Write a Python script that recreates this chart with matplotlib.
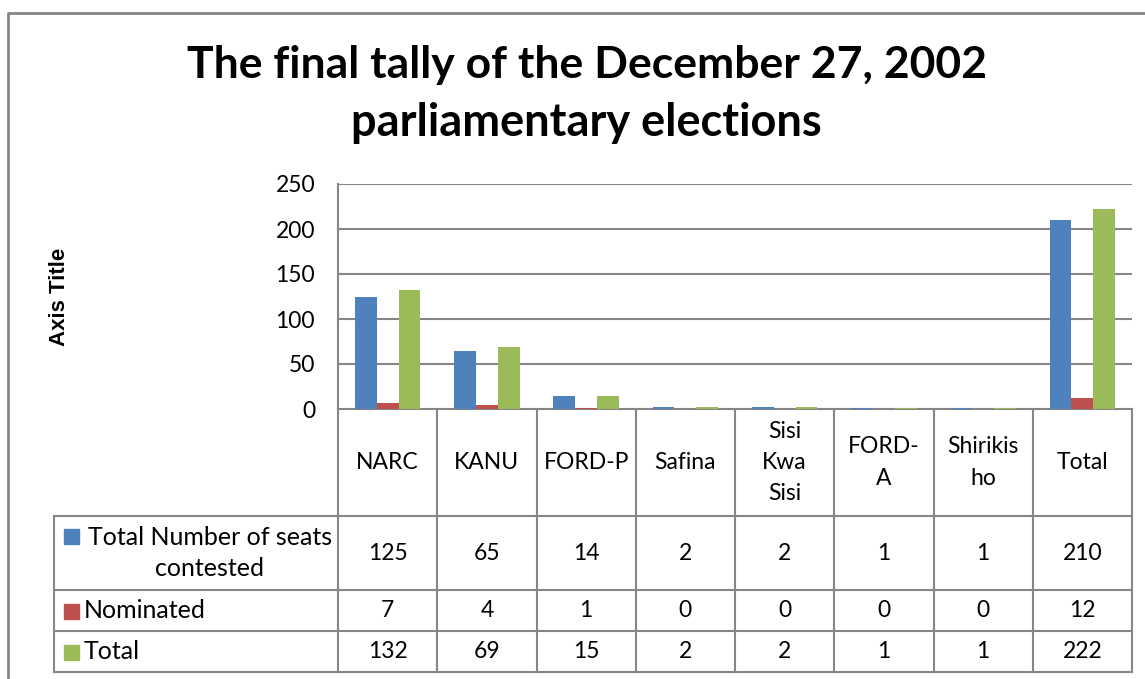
import matplotlib.pyplot as plt
import numpy as np

# Data
parties = ['NARC', 'KANU', 'FORD-P', 'Safina', 'Sisi Kwa Sisi', 'FORD-A', 'Shirikisho', 'Total']
header_labels = ['NARC', 'KANU', 'FORD-P', 'Safina', 'Sisi\nKwa\nSisi', 'FORD-\nA', 'Shirikis\nho', 'Total']
contested = [125, 65, 14, 2, 2, 1, 1, 210]
nominated = [7, 4, 1, 0, 0, 0, 0, 12]
total = [132, 69, 15, 2, 2, 1, 1, 222]
series_names = ['Total Number of seats\ncontested', 'Nominated', 'Total']
series_colors = ['#4F81BD', '#C0504D', '#9BBB59']

W, H = 1145, 679
grid_color = '#868686'
font = 'Lato'

fig = plt.figure(figsize=(W / 100, H / 100), dpi=100)

# full-figure overlay in pixel coords for border, title and data table
bg = fig.add_axes([0, 0, 1, 1])
bg.set_xlim(0, W)
bg.set_ylim(H, 0)
bg.axis('off')

# plot area
px_left, px_right, px_top, px_bottom = 338, 1132, 184, 409
ax = fig.add_axes([px_left / W, (H - px_bottom) / H, (px_right - px_left) / W, (px_bottom - px_top) / H])

n = len(parties)
x = np.arange(n) + 0.5
bw = 0.22
for i, vals in enumerate([contested, nominated, total]):
    ax.bar(x + (i - 1) * bw, vals, width=bw, color=series_colors[i], zorder=3)

ax.set_xlim(0, n)
ax.set_ylim(0, 250)
ax.set_yticks(np.arange(0, 251, 50))
ax.set_xticks([])
ax.grid(axis='y', color=grid_color, linewidth=1.5, zorder=0)
for s in ['top', 'right', 'bottom']:
    ax.spines[s].set_visible(False)
ax.spines['left'].set_color(grid_color)
ax.spines['left'].set_linewidth(1.5)
ax.tick_params(axis='y', length=0, pad=16.5, labelsize=16.5)
for lab in ax.get_yticklabels():
    lab.set_fontfamily(font)
ax.set_ylabel('Axis Title', fontsize=16, fontweight='bold', family='Liberation Sans', labelpad=0)
ax.yaxis.set_label_coords((70 - px_left) / (px_right - px_left), 0.5)

# chart border
bg.plot([8, 8, W + 5], [H + 5, 13, 13], color=grid_color, linewidth=2)

# title
fig.text(587 / W, 1 - 65 / H, 'The final tally of the December 27, 2002',
         ha='center', va='center', fontsize=32, fontweight='bold', family=font)
fig.text(586 / W, 1 - 123 / H, 'parliamentary elections',
         ha='center', va='center', fontsize=32.5, fontweight='bold', family=font)

# data table
colw = (px_right - px_left) / n
edges = [px_left + i * colw for i in range(n + 1)]
row_y = [409, 516, 590, 631, 672]
legend_left = 54
lw = 1.5
bg.plot([px_left, px_right], [row_y[0], row_y[0]], color=grid_color, linewidth=lw)
for yy in row_y[1:]:
    bg.plot([legend_left, px_right], [yy, yy], color=grid_color, linewidth=lw)
for xx in edges:
    bg.plot([xx, xx], [row_y[0], row_y[-1]], color=grid_color, linewidth=lw)
bg.plot([legend_left, legend_left], [row_y[1], row_y[-1]], color=grid_color, linewidth=lw)

for j, lab in enumerate(header_labels):
    bg.text((edges[j] + edges[j + 1]) / 2, (row_y[0] + row_y[1]) / 2, lab,
            ha='center', va='center', fontsize=16.5, family=font, linespacing=1.6)

for r, vals in enumerate([contested, nominated, total]):
    yc = (row_y[r + 1] + row_y[r + 2]) / 2
    for j, v in enumerate(vals):
        bg.text((edges[j] + edges[j + 1]) / 2, yc, str(v), ha='center', va='center',
                fontsize=16.5, family=font)
    # legend key
    key_y = row_y[r + 1] + 20 if r == 0 else yc
    bg.add_patch(plt.Rectangle((64, key_y - 7), 15, 15, color=series_colors[r]))
    if r == 0:
        bg.text(210, yc, series_names[r], ha='center', va='center', fontsize=18,
                family=font, linespacing=1.45)
    else:
        bg.text(84, yc, series_names[r], ha='left', va='center', fontsize=18, family=font)

fig.savefig('out.png', dpi=100)
